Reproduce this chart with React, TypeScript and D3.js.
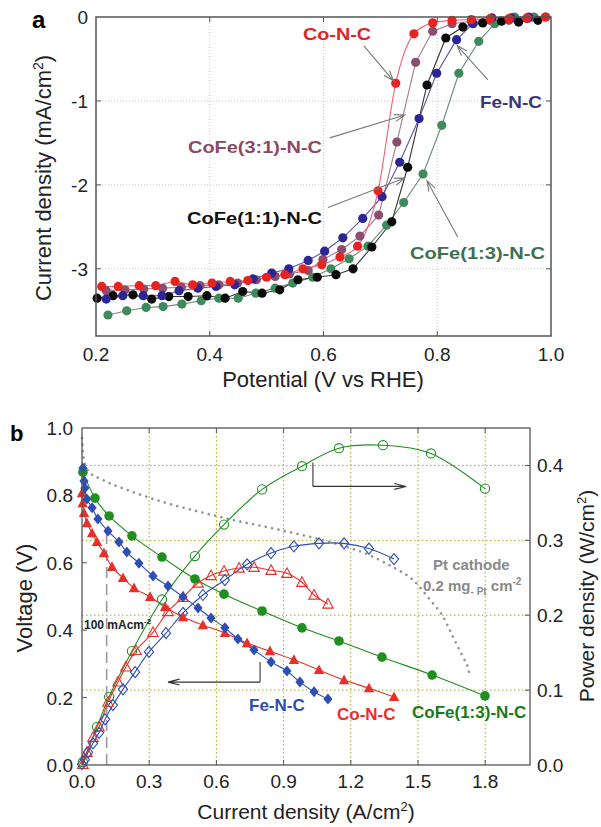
import React from 'react';
import * as d3 from 'd3';

type P = [number, number];

// ---------- Panel a data (Potential V vs RHE, current density mA/cm2) ----------
const aXTicks = [0.2, 0.4, 0.6, 0.8, 1.0];
const aYTicks = [0, -1, -2, -3];

const aCoNC: P[] = [[0.21,-3.21],[0.239,-3.21],[0.276,-3.2],[0.305,-3.2],[0.339,-3.15],[0.37,-3.19],[0.404,-3.17],[0.436,-3.15],[0.467,-3.14],[0.5,-3.1],[0.532,-3.07],[0.564,-3.0],[0.597,-2.95],[0.629,-2.86],[0.66,-2.73],[0.696,-2.07],[0.727,-0.79],[0.759,-0.2],[0.792,-0.07],[0.826,-0.04],[0.86,-0.03],[0.893,-0.02],[0.926,-0.02],[0.958,-0.01],[0.99,0]];
const aCoFe31: P[] = [[0.218,-3.26],[0.251,-3.25],[0.284,-3.24],[0.317,-3.23],[0.35,-3.22],[0.383,-3.2],[0.416,-3.19],[0.449,-3.17],[0.482,-3.13],[0.515,-3.09],[0.54,-3.06],[0.573,-3.02],[0.599,-2.89],[0.632,-2.77],[0.664,-2.61],[0.697,-2.36],[0.729,-1.49],[0.762,-0.54],[0.792,-0.17],[0.826,-0.08],[0.86,-0.05],[0.893,-0.04],[0.926,-0.04],[0.958,-0.02],[0.991,0]];
const aCoFe11: P[] = [[0.202,-3.35],[0.23,-3.32],[0.265,-3.31],[0.298,-3.36],[0.328,-3.33],[0.362,-3.33],[0.395,-3.32],[0.427,-3.35],[0.458,-3.27],[0.492,-3.29],[0.523,-3.25],[0.555,-3.13],[0.589,-3.1],[0.622,-3.07],[0.652,-3.0],[0.685,-2.74],[0.72,-2.44],[0.748,-1.79],[0.782,-0.81],[0.815,-0.25],[0.845,-0.12],[0.88,-0.07],[0.913,-0.05],[0.943,-0.06],[0.977,-0.04]];
const aFeNC: P[] = [[0.218,-3.36],[0.247,-3.32],[0.283,-3.32],[0.316,-3.32],[0.346,-3.26],[0.379,-3.23],[0.411,-3.21],[0.444,-3.19],[0.476,-3.12],[0.509,-3.05],[0.539,-3.0],[0.573,-2.9],[0.602,-2.79],[0.634,-2.63],[0.669,-2.4],[0.703,-2.14],[0.734,-1.73],[0.768,-1.21],[0.799,-0.67],[0.834,-0.27],[0.863,-0.08],[0.896,-0.01],[0.93,-0.01],[0.961,0]];
const aCoFe13: P[] = [[0.221,-3.55],[0.254,-3.5],[0.288,-3.46],[0.318,-3.45],[0.351,-3.42],[0.385,-3.38],[0.416,-3.35],[0.45,-3.35],[0.481,-3.29],[0.515,-3.23],[0.546,-3.17],[0.581,-3.1],[0.613,-3.0],[0.645,-2.88],[0.678,-2.73],[0.711,-2.48],[0.741,-2.21],[0.775,-1.87],[0.808,-1.29],[0.838,-0.67],[0.873,-0.29],[0.901,-0.08],[0.936,0],[0.97,0]];

// ---------- Panel b data (current density A/cm2) ----------
const bXTicks = [0, 0.3, 0.6, 0.9, 1.2, 1.5, 1.8];
const bVTicks = [0, 0.2, 0.4, 0.6, 0.8, 1.0];
const bPTicks = [0, 0.1, 0.2, 0.3, 0.4];

const bFeV: P[] = [[0.004,0.881],[0.009,0.843],[0.013,0.822],[0.022,0.789],[0.045,0.763],[0.071,0.73],[0.116,0.694],[0.165,0.662],[0.2,0.632],[0.254,0.599],[0.317,0.561],[0.384,0.531],[0.451,0.499],[0.518,0.466],[0.576,0.436],[0.638,0.407],[0.696,0.374],[0.768,0.341],[0.844,0.306],[0.915,0.279],[0.973,0.246],[1.036,0.217],[1.098,0.196]];
const bCoV: P[] = [[0.0,0.807],[0.003,0.777],[0.009,0.748],[0.022,0.718],[0.045,0.688],[0.067,0.662],[0.098,0.629],[0.134,0.588],[0.183,0.555],[0.232,0.525],[0.304,0.499],[0.371,0.469],[0.451,0.439],[0.54,0.415],[0.638,0.392],[0.737,0.362],[0.839,0.338],[0.946,0.312],[1.058,0.282],[1.17,0.252],[1.281,0.228],[1.393,0.202]];
const bCoFe13V: P[] = [[0.004,0.869],[0.058,0.792],[0.121,0.739],[0.223,0.68],[0.357,0.617],[0.504,0.552],[0.634,0.507],[0.804,0.457],[0.982,0.407],[1.147,0.368],[1.339,0.32],[1.563,0.267],[1.799,0.205]];
const bCoFe13P: P[] = [[0.004,0.004],[0.067,0.051],[0.121,0.091],[0.223,0.152],[0.357,0.221],[0.504,0.279],[0.634,0.321],[0.804,0.368],[0.982,0.399],[1.147,0.423],[1.344,0.427],[1.558,0.416],[1.799,0.369]];
const bCoP: P[] = [[0.004,0.001],[0.022,0.017],[0.049,0.037],[0.076,0.051],[0.116,0.084],[0.161,0.111],[0.196,0.131],[0.241,0.153],[0.317,0.177],[0.384,0.205],[0.451,0.224],[0.518,0.243],[0.576,0.253],[0.634,0.259],[0.701,0.263],[0.768,0.264],[0.844,0.26],[0.915,0.256],[0.982,0.244],[1.036,0.227],[1.098,0.215]];
const bFeP: P[] = [[0.0,0.001],[0.013,0.007],[0.027,0.017],[0.049,0.029],[0.076,0.043],[0.103,0.061],[0.138,0.08],[0.183,0.101],[0.237,0.124],[0.299,0.151],[0.375,0.176],[0.451,0.203],[0.54,0.227],[0.638,0.247],[0.737,0.268],[0.844,0.283],[0.946,0.292],[1.058,0.296],[1.17,0.296],[1.281,0.289],[1.393,0.275]];
const bPtV: P[] = [[0,0.97],[0.004,0.93],[0.015,0.89],[0.04,0.865],[0.08,0.85],[0.228,0.81],[0.379,0.777],[0.527,0.751],[0.674,0.727],[0.826,0.706],[0.973,0.684],[1.1,0.663],[1.196,0.644],[1.272,0.626],[1.344,0.603],[1.4,0.583],[1.478,0.549],[1.554,0.49],[1.612,0.44],[1.652,0.386],[1.674,0.356],[1.701,0.32],[1.723,0.288],[1.732,0.261]];
const bRefCurrent = 0.11;

const FONT = "'Liberation Sans', Arial, Helvetica, sans-serif";

function arrow(x1: number, y1: number, x2: number, y2: number, len = 11, ang = 0.33) {
  const a = Math.atan2(y2 - y1, x2 - x1);
  const b1x = x2 - len * Math.cos(a - ang), b1y = y2 - len * Math.sin(a - ang);
  const b2x = x2 - len * Math.cos(a + ang), b2y = y2 - len * Math.sin(a + ang);
  return `M${x1},${y1}L${x2},${y2}M${b1x},${b1y}L${x2},${y2}L${b2x},${b2y}`;
}

function PanelA() {
  const x = d3.scaleLinear().domain([0.2, 1.0]).range([96, 551]);
  const y = d3.scaleLinear().domain([-3.8, 0]).range([336, 17]);
  const lin = d3.line<P>().x(d => x(d[0])).y(d => y(d[1]));
  const smooth = d3.line<P>().x(d => x(d[0])).y(d => y(d[1])).curve(d3.curveMonotoneX);
  const series = [
    { d: aCoFe31, fill: '#8c4e6e', line: '#9c7c8a', smooth: false },
    { d: aCoFe13, fill: '#3e8a5c', line: '#6f8a76', smooth: false },
    { d: aCoFe11, fill: '#0a0a0a', line: '#333333', smooth: false },
    { d: aFeNC, fill: '#2c2596', line: '#5a55a0', smooth: false },
    { d: aCoNC, fill: '#e8231f', line: '#f2607a', smooth: true },
  ];
  const labels = [
    { t: 'Co-N-C', x: 303, y: 40, w: 68, c: '#e02420', ax: [0.671, -0.345, 0.723, -0.76] },
    { t: 'Fe-N-C', x: 480, y: 108, w: 62, c: '#3a3578', ax: [0.889, -0.75, 0.835, -0.34] },
    { t: 'CoFe(3:1)-N-C', x: 188, y: 153, w: 134, c: '#8a4a66', ax: [0.611, -1.44, 0.743, -1.167] },
    { t: 'CoFe(1:1)-N-C', x: 187, y: 224, w: 135, c: '#111111', ax: [0.608, -2.27, 0.743, -1.917] },
    { t: 'CoFe(1:3)-N-C', x: 410, y: 259, w: 135, c: '#3d7050', ax: [0.836, -2.62, 0.782, -1.95] },
  ];
  return (
    <g>
      <text x={32} y={28} fontFamily={FONT} fontWeight="bold" fontSize={24}>a</text>
      {aXTicks.slice(1, -1).map(t => (
        <line key={'gx' + t} x1={x(t)} x2={x(t)} y1={y(0)} y2={y(-3.8)} stroke="#c8c8c8" strokeDasharray="1 2" />
      ))}
      {aYTicks.slice(1).map(t => (
        <line key={'gy' + t} x1={x(0.2)} x2={x(1.0)} y1={y(t)} y2={y(t)} stroke="#c8c8c8" strokeDasharray="1 2" />
      ))}
      {series.map((s, i) => (
        <path key={'l' + i} d={(s.smooth ? smooth : lin)(s.d) || ''} fill="none" stroke={s.line} strokeWidth={1.1} />
      ))}
      {series.map((s, i) => (
        <g key={'m' + i}>
          {s.d.map((p, j) => (
            <circle key={j} cx={x(p[0])} cy={y(p[1])} r={4.6} fill={s.fill} />
          ))}
        </g>
      ))}
      {labels.map((l, i) => (
        <g key={'lab' + i}>
          <path d={arrow(x(l.ax[0]), y(l.ax[1]), x(l.ax[2]), y(l.ax[3]))} fill="none" stroke="#7a7a7a" strokeWidth={1.1} />
          <text x={l.x} y={l.y} fontFamily={FONT} fontWeight="bold" fontSize={17} fill={l.c} textLength={l.w} lengthAdjust="spacingAndGlyphs">{l.t}</text>
        </g>
      ))}
      <rect x={96} y={17} width={455} height={319} fill="none" stroke="#555" strokeWidth={1.5} />
      {aXTicks.slice(1, -1).map(t => (
        <g key={'tx' + t}>
          <line x1={x(t)} x2={x(t)} y1={336} y2={331} stroke="#555" />
          <line x1={x(t)} x2={x(t)} y1={17} y2={22} stroke="#555" />
        </g>
      ))}
      {aYTicks.slice(1).map(t => (
        <g key={'ty' + t}>
          <line x1={96} x2={101} y1={y(t)} y2={y(t)} stroke="#555" />
          <line x1={551} x2={546} y1={y(t)} y2={y(t)} stroke="#555" />
        </g>
      ))}
      {aXTicks.map(t => (
        <text key={'xl' + t} x={x(t)} y={361} textAnchor="middle" fontFamily={FONT} fontSize={19} fill="#222">{t.toFixed(1)}</text>
      ))}
      {aYTicks.map(t => (
        <text key={'yl' + t} x={88} y={y(t) + 7} textAnchor="end" fontFamily={FONT} fontSize={19} fill="#222">{t === 0 ? '0' : String(t)}</text>
      ))}
      <text x={323} y={387} textAnchor="middle" fontFamily={FONT} fontSize={22} fill="#222">Potential (V vs RHE)</text>
      <text transform="translate(51,178) rotate(-90)" textAnchor="middle" fontFamily={FONT} fontSize={22} fill="#222">
        Current density (mA/cm<tspan dy={-8} fontSize={14}>2</tspan><tspan dy={8}>)</tspan>
      </text>
    </g>
  );
}

function diamond(cx: number, cy: number, h = 5.5, w = 4.6) {
  return `M${cx},${cy - h}L${cx + w},${cy}L${cx},${cy + h}L${cx - w},${cy}Z`;
}
function triangle(cx: number, cy: number, s = 5.5) {
  return `M${cx},${cy - s}L${cx + s * 0.95},${cy + s * 0.75}L${cx - s * 0.95},${cy + s * 0.75}Z`;
}

function PanelB() {
  const x = d3.scaleLinear().domain([0, 2]).range([82, 530]);
  const yV = d3.scaleLinear().domain([0, 1]).range([765, 428]);
  const yP = d3.scaleLinear().domain([0, 0.45]).range([765, 428]);
  const lineV = d3.line<P>().x(d => x(d[0])).y(d => yV(d[1])).curve(d3.curveCatmullRom);
  const lineP = d3.line<P>().x(d => x(d[0])).y(d => yP(d[1])).curve(d3.curveCatmullRom);
  const linePt = d3.line<P>().x(d => x(d[0])).y(d => yV(d[1])).curve(d3.curveMonotoneX);
  const green = '#1f8f1f', red = '#e8302a', blue = '#2d4fb5';
  const grid = '#a6a62e';
  return (
    <g>
      <text x={10} y={441} fontFamily={FONT} fontWeight="bold" fontSize={22}>b</text>
      {bXTicks.slice(1).map(t => (
        <line key={'gx' + t} x1={x(t)} x2={x(t)} y1={428} y2={765} stroke={grid} strokeWidth={1} strokeDasharray="1.5 2.5" />
      ))}
      {bPTicks.slice(1).map(t => (
        <line key={'gy' + t} x1={82} x2={530} y1={yP(t)} y2={yP(t)} stroke={grid} strokeWidth={1} strokeDasharray="1.5 2.5" />
      ))}
      {/* reference current dashed line */}
      <line x1={x(bRefCurrent)} x2={x(bRefCurrent)} y1={yV(0)} y2={yV(0.7)} stroke="#9a9a9a" strokeWidth={1.6} strokeDasharray="11 6" />
      {/* Pt cathode dotted */}
      <path d={linePt(bPtV) || ''} fill="none" stroke="#959595" strokeWidth={2.6} strokeLinecap="round" strokeDasharray="0.1 6.4" />
      {/* lines */}
      <path d={lineV(bCoFe13V) || ''} fill="none" stroke={green} strokeWidth={1.1} />
      <path d={lineP(bCoFe13P) || ''} fill="none" stroke={green} strokeWidth={1.1} />
      <path d={lineV(bCoV) || ''} fill="none" stroke={red} strokeWidth={1.1} />
      <path d={lineP(bCoP) || ''} fill="none" stroke={red} strokeWidth={1.1} />
      <path d={lineV(bFeV) || ''} fill="none" stroke={blue} strokeWidth={1.1} />
      <path d={lineP(bFeP) || ''} fill="none" stroke={blue} strokeWidth={1.1} />
      {/* markers */}
      {bCoFe13P.map((p, i) => <circle key={'gp' + i} cx={x(p[0])} cy={yP(p[1])} r={4.6} fill="none" stroke={green} strokeWidth={1.1} />)}
      {bCoP.map((p, i) => <path key={'rp' + i} d={triangle(x(p[0]), yP(p[1]))} fill="none" stroke={red} strokeWidth={1.1} />)}
      {bFeP.map((p, i) => <path key={'bp' + i} d={diamond(x(p[0]), yP(p[1]))} fill="none" stroke={blue} strokeWidth={1.1} />)}
      {bCoFe13V.map((p, i) => <circle key={'gv' + i} cx={x(p[0])} cy={yV(p[1])} r={4.8} fill={green} />)}
      {bCoV.map((p, i) => <path key={'rv' + i} d={triangle(x(p[0]), yV(p[1]))} fill={red} />)}
      {bFeV.map((p, i) => <path key={'bv' + i} d={diamond(x(p[0]), yV(p[1]))} fill={blue} />)}
      {/* axis arrows */}
      <path d={`M${x(0.795)},${yV(0.306)}L${x(0.795)},${yV(0.246)}` + arrow(x(0.795), yV(0.246), x(0.384), yV(0.246), 12, 0.25)} fill="none" stroke="#333" strokeWidth={1.1} />
      <path d={`M${x(1.031)},${yP(0.404)}L${x(1.031)},${yP(0.372)}` + arrow(x(1.031), yP(0.372), x(1.446), yP(0.372), 12, 0.25)} fill="none" stroke="#333" strokeWidth={1.1} />
      {/* labels */}
      <text x={84} y={629} fontFamily={FONT} fontWeight="bold" fontSize={12} fill="#222">100 mAcm<tspan dy={-5} fontSize={8}>-2</tspan></text>
      <text x={433} y={570} fontFamily={FONT} fontWeight="bold" fontSize={15} fill="#8a8a8a">Pt cathode</text>
      <text x={423} y={591} fontFamily={FONT} fontWeight="bold" fontSize={15} fill="#8a8a8a">
        0.2 mg<tspan dy={4} fontSize={10}>- Pt</tspan><tspan dy={-4}> cm</tspan><tspan dy={-6} fontSize={10}>-2</tspan>
      </text>
      <text x={249} y={711} fontFamily={FONT} fontWeight="bold" fontSize={17} fill={blue}>Fe-N-C</text>
      <text x={337} y={720} fontFamily={FONT} fontWeight="bold" fontSize={17} fill={red}>Co-N-C</text>
      <text x={412} y={718} fontFamily={FONT} fontWeight="bold" fontSize={17} fill="#1a7a1a">CoFe(1:3)-N-C</text>
      {/* frame + ticks */}
      <rect x={82} y={428} width={448} height={337} fill="none" stroke="#555" strokeWidth={1.3} />
      {bXTicks.slice(1).map(t => (
        <g key={'tx' + t}>
          <line x1={x(t)} x2={x(t)} y1={765} y2={760} stroke="#555" />
          <line x1={x(t)} x2={x(t)} y1={428} y2={433} stroke="#555" />
        </g>
      ))}
      {bVTicks.slice(1, -1).map(t => (
        <line key={'tv' + t} x1={82} x2={87} y1={yV(t)} y2={yV(t)} stroke="#555" />
      ))}
      {bPTicks.slice(1).map(t => (
        <line key={'tp' + t} x1={530} x2={525} y1={yP(t)} y2={yP(t)} stroke="#555" />
      ))}
      {bXTicks.map(t => (
        <text key={'xl' + t} x={x(t)} y={788} textAnchor="middle" fontFamily={FONT} fontSize={19} fill="#222">{t.toFixed(1)}</text>
      ))}
      {bVTicks.map(t => (
        <text key={'vl' + t} x={73} y={yV(t) + 7} textAnchor="end" fontFamily={FONT} fontSize={19} fill="#222">{t.toFixed(1)}</text>
      ))}
      {bPTicks.map(t => (
        <text key={'pl' + t} x={537} y={yP(t) + 7} textAnchor="start" fontFamily={FONT} fontSize={19} fill="#222">{t.toFixed(1)}</text>
      ))}
      <text x={306} y={819} textAnchor="middle" fontFamily={FONT} fontSize={21} fill="#222">
        Current density (A/cm<tspan dy={-8} fontSize={13}>2</tspan><tspan dy={8}>)</tspan>
      </text>
      <text transform="translate(32,598) rotate(-90)" textAnchor="middle" fontFamily={FONT} fontSize={22} fill="#222">Voltage (V)</text>
      <text transform="translate(594,596) rotate(-90)" textAnchor="middle" fontFamily={FONT} fontSize={21} fill="#222">
        Power density (W/cm<tspan dy={-8} fontSize={13}>2</tspan><tspan dy={8}>)</tspan>
      </text>
    </g>
  );
}

export default function App() {
  return (
    <svg width={601} height={827} viewBox="0 0 601 827" style={{ position: 'absolute', left: 0, top: 0, background: '#fff' }}>
      <rect x={0} y={0} width={601} height={827} fill="#fff" />
      <PanelA />
      <PanelB />
    </svg>
  );
}
